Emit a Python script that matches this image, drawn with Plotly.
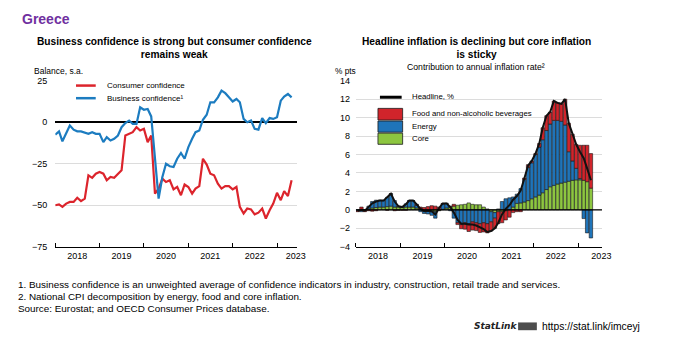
import plotly.graph_objects as go
import pandas as pd

W, H = 685, 342


def px(x):
    return x / W


def py(y):
    return 1 - y / H


# ---------------- data ----------------
conf_months = pd.date_range("2018-01-01", periods=65, freq="MS")
consumer_conf = [
    -50, -49.5, -51, -49, -48, -48, -45.5, -47.5, -46, -32, -33.5, -31,
    -30, -31, -35, -33, -33.5, -31, -29, -8, -7, -6, -3, -5,
    -4, -12, -8, -43, -40, -34, -36, -35, -40.5, -39, -44, -37.5,
    -39, -43, -40, -38.5, -22, -25.5, -31, -32, -37, -40, -38.5, -38.5,
    -40.5, -39, -51, -55, -52, -52.5, -55.5, -54.5, -52, -58, -53, -49,
    -42.5, -47, -41.5, -44.5, -35,
]
business_conf = [
    -7.5, -5.5, -11.5, -7, -2, -4.5, -5.5, -5.5, -6.3, -7, -6, -7,
    -7, -12, -9, -11, -10, -8, -3, -0.5, 1, -1, -1, 9,
    7.5, 8, 3.5, -20, -46, -33, -25, -26.5, -27, -22, -18.5, -22,
    -15, -10, -6, -5, 1.5, 4.5, 12, 12, 15, 19, 17.5, 15,
    12.5, 14, 12, 2, 0, 1, -4, -4.5, 2.5, -0.5, 2.5, 2,
    3, 13, 15.5, 17, 15,
]

cpi_months = pd.date_range("2018-01-01", periods=64, freq="MS") + pd.Timedelta(days=14)
core = [
    0.0, 0.05, -0.1, 0.1, 0.2, 0.25, 0.3, 0.3, 0.35, 0.4, 0.3, 0.3,
    0.25, 0.3, 0.3, 0.3, 0.2, 0.1, -0.1, -0.15, -0.2, -0.2, -0.1, 0.05,
    0.2, 0.3, 0.4, 0.5, 0.55, 0.6, 0.75, 0.6, 0.55, 0.55, 0.3, 0.1,
    -0.2, -0.3, -0.2, -0.2, -0.1, 0.0, 0.3, 0.7, 0.75, 0.85, 1.0, 1.2,
    1.4, 1.6, 1.85, 2.2, 2.5, 2.65, 2.8, 2.9, 3.0, 3.1, 3.2, 3.25,
    3.25, 3.2, 3.05, 2.35,
]
energy = [
    -0.1, -0.2, 0.0, 0.3, 0.7, 0.8, 0.7, 0.7, 1.0, 1.35, 0.7, 0.1,
    0.1, 0.35, 0.7, 0.7, 0.3, -0.2, -0.3, -0.3, -0.4, -0.7, 0.0, 0.6,
    0.5, -0.1, -0.9, -1.4, -1.6, -1.4, -1.5, -1.3, -1.4, -1.5, -1.4, -1.5,
    -1.1, -0.6, 0.1, 0.9, 1.2, 1.3, 1.1, 1.0, 1.55, 2.45, 3.6, 3.9,
    4.6, 5.2, 5.75, 6.4, 6.8, 7.05, 6.9, 6.7, 6.2, 3.2, 2.1, 1.25,
    0.15, -0.95, -2.5, -3.05,
]
food = [
    -0.1, 0.25, -0.1, -0.1, -0.15, -0.1, 0.05, 0.0, -0.05, 0.0, -0.1, -0.05,
    -0.05, -0.05, 0.0, 0.0, 0.1, 0.2, 0.25, 0.35, 0.45, 0.4, 0.3, 0.05,
    0.0, 0.1, 0.2, -0.2, -0.45, -0.7, -0.85, -0.9, -0.85, -0.95, -1.0, -1.0,
    -1.0, -1.1, -1.3, -1.2, -1.0, -0.8, -0.3, -0.2, -0.2, 0.15, 0.3, 0.2,
    0.1, 0.4, 1.3, 1.6, 1.3, 2.1, 1.9, 1.9, 2.8, 3.1, 2.9, 2.6,
    3.6, 3.8, 3.95, 3.75,
]
headline = [
    -0.1, 0.0, -0.1, 0.3, 0.7, 0.9, 1.0, 1.0, 1.35, 1.75, 0.9, 0.4,
    0.3, 0.6, 1.0, 1.0, 0.6, 0.1, -0.15, -0.1, -0.15, -0.5, 0.2, 0.7,
    0.7, 0.3, -0.3, -1.1, -1.5, -1.5, -1.6, -1.6, -1.7, -1.9, -2.1, -2.4,
    -2.3, -2.0, -1.4, -0.5, 0.1, 0.5, 1.1, 1.5, 2.1, 3.4, 4.8, 5.3,
    6.1, 7.2, 8.9, 10.2, 10.6, 11.8, 11.6, 11.5, 12.0, 9.4, 8.2, 7.1,
    6.3, 5.6, 4.5, 3.2,
]

year_labels = ["2018", "2019", "2020", "2021", "2022", "2023"]
left_y_ticks = [25, 0, -25, -50, -75]

# ---------------- style ----------------
RED_LINE = "#dc242c"
BLUE_LINE = "#1c7cc0"
RED_BAR = "#d1242b"
BLUE_BAR = "#1f74b9"
GREEN_BAR = "#8dc640"
GRID = "#dcdcdc"
FONT = "Liberation Sans, Arial, sans-serif"

fig = go.Figure()

fig.add_trace(go.Scatter(x=conf_months, y=consumer_conf, mode="lines",
                         line=dict(color=RED_LINE, width=2.2),
                         name="Consumer confidence", xaxis="x", yaxis="y",
                         showlegend=False))
fig.add_trace(go.Scatter(x=conf_months, y=business_conf, mode="lines",
                         line=dict(color=BLUE_LINE, width=2.2),
                         name="Business confidence¹", xaxis="x", yaxis="y",
                         showlegend=False))

bar_w = 28 * 86400000
for vals, col, nm in [(core, GREEN_BAR, "Core"), (energy, BLUE_BAR, "Energy"),
                      (food, RED_BAR, "Food and non-alcoholic beverages")]:
    fig.add_trace(go.Bar(x=cpi_months, y=vals, width=bar_w, name=nm,
                         marker=dict(color=col, line=dict(color="#1a1a1a", width=0.6)),
                         xaxis="x2", yaxis="y2", showlegend=False))

fig.add_trace(go.Scatter(x=cpi_months, y=headline, mode="lines",
                         line=dict(color="#111111", width=2),
                         name="Headline, %", xaxis="x2", yaxis="y2",
                         showlegend=False))

year_starts = [f"{y}-01-01" for y in range(2018, 2024)]

common_x = dict(type="date", showgrid=False, showline=True, linecolor="#000",
                linewidth=1, ticks="", tickmode="array", ticktext=year_labels,
                tickfont=dict(family=FONT, size=9, color="#000"),
                minor=dict(tickmode="array", tickvals=year_starts, ticks="inside",
                           ticklen=4, tickcolor="#000", tickwidth=1, showgrid=False))

fig.update_layout(
    width=W, height=H, margin=dict(l=0, r=0, t=0, b=0),
    paper_bgcolor="white", plot_bgcolor="white",
    barmode="relative", showlegend=False,
    font=dict(family=FONT, color="#000"),
    xaxis=dict(domain=[px(56), px(301)], anchor="y",
               range=["2018-01-01", "2023-06-15"],
               tickvals=["2018-07-01", "2019-07-01", "2020-07-01", "2021-07-01",
                         "2022-07-01", "2023-06-05"],
               **common_x),
    yaxis=dict(domain=[py(249), py(78)], anchor="x", range=[-75, 25],
               tickmode="array", tickvals=left_y_ticks,
               showgrid=True, gridcolor=GRID, gridwidth=1,
               zeroline=True, zerolinecolor="#000", zerolinewidth=1.6,
               ticks="", ticklabelstandoff=7,
               tickfont=dict(family=FONT, size=9, color="#000")),
    xaxis2=dict(domain=[px(360.7), px(610)], anchor="y2",
                range=["2018-01-01", "2023-07-15"],
                tickvals=["2018-07-01", "2019-07-01", "2020-07-01", "2021-07-01",
                          "2022-07-01", "2023-07-10"],
                **common_x),
    yaxis2=dict(domain=[py(249), py(78)], anchor="x2", range=[-4, 14],
                tickmode="linear", tick0=-4, dtick=2,
                showgrid=True, gridcolor=GRID, gridwidth=1,
                zeroline=False, ticks="", ticklabelstandoff=5,
                tickfont=dict(family=FONT, size=9, color="#000")),
)

shapes = []
# zero line above bars on the right panel
shapes.append(dict(type="line", xref="x2 domain", yref="y2", x0=0, x1=1, y0=0, y1=0,
                   line=dict(color="#000", width=1.4), layer="above"))
# left legend keys
shapes.append(dict(type="line", xref="paper", yref="paper", x0=px(77), x1=px(97),
                   y0=py(83), y1=py(83), line=dict(color=RED_LINE, width=2.5)))
shapes.append(dict(type="line", xref="paper", yref="paper", x0=px(77), x1=px(97),
                   y0=py(96), y1=py(96), line=dict(color=BLUE_LINE, width=2.5)))
# right legend keys
shapes.append(dict(type="line", xref="paper", yref="paper", x0=px(385), x1=px(407),
                   y0=py(95), y1=py(95), line=dict(color="#000", width=3)))
for (top, bot, col) in [(106.5, 118.5, RED_BAR), (119.5, 131, BLUE_BAR), (132, 143.5, GREEN_BAR)]:
    shapes.append(dict(type="rect", xref="paper", yref="paper", x0=px(383), x1=px(408),
                       y0=py(bot), y1=py(top), fillcolor=col,
                       line=dict(color="#1a1a1a", width=0.8)))
# StatLink logo block
shapes.append(dict(type="rect", xref="paper", yref="paper", x0=px(525), x1=px(544),
                   y0=py(335), y1=py(327), fillcolor="#4d4d4d", line=dict(width=0)))
fig.update_layout(shapes=shapes)

ann = []


def text(x, y, s, size=8.5, xanchor="left", bold=False, color="#000", family=FONT,
         italic=False):
    if bold:
        s = f"<b>{s}</b>"
    if italic:
        s = f"<i>{s}</i>"
    ann.append(dict(x=px(x), y=py(y), xref="paper", yref="paper", text=s,
                    showarrow=False, xanchor=xanchor, yanchor="middle",
                    font=dict(size=size, color=color, family=family)))


text(20, 14, "Greece", size=14, bold=True, color="#7030A0")
text(177, 44.5, "Business confidence is strong but consumer confidence<br>remains weak",
     size=10.2, xanchor="center", bold=True)
ann[-1]["align"] = "center"
text(483, 44.5, "Headline inflation is declining but core inflation<br>is sticky",
     size=10.2, xanchor="center", bold=True)
ann[-1]["align"] = "center"
text(482.5, 63.5, "Contribution to annual inflation rate²", size=8.7, xanchor="center")
text(32, 68, "Balance, s.a.", size=8.5)
text(337, 68.5, "% pts", size=8.3)
text(106, 83, "Consumer confidence", size=8)
text(106, 96, "Business confidence¹", size=8)
text(415, 94, "Headline, %", size=7.8)
text(415, 112, "Food and non-alcoholic beverages", size=7.8)
text(415, 125.5, "Energy", size=7.8)
text(415, 138, "Core", size=7.8)
text(16, 288, "1. Business confidence is an unweighted average of confidence indicators in industry, construction, retail trade and services.",
     size=9.9)
text(16, 300.5, "2. National CPI decomposition by energy, food and core inflation.",
     size=9.9)
text(16, 313, "Source: Eurostat; and OECD Consumer Prices database.", size=9.9)
text(478, 331, "StatLink", size=9, italic=True, bold=True, family="DejaVu Sans, sans-serif",
     color="#222")
text(547, 331, "https://stat.link/imceyj", size=10.3)

fig.update_layout(annotations=ann)

fig.write_html("out.html")
